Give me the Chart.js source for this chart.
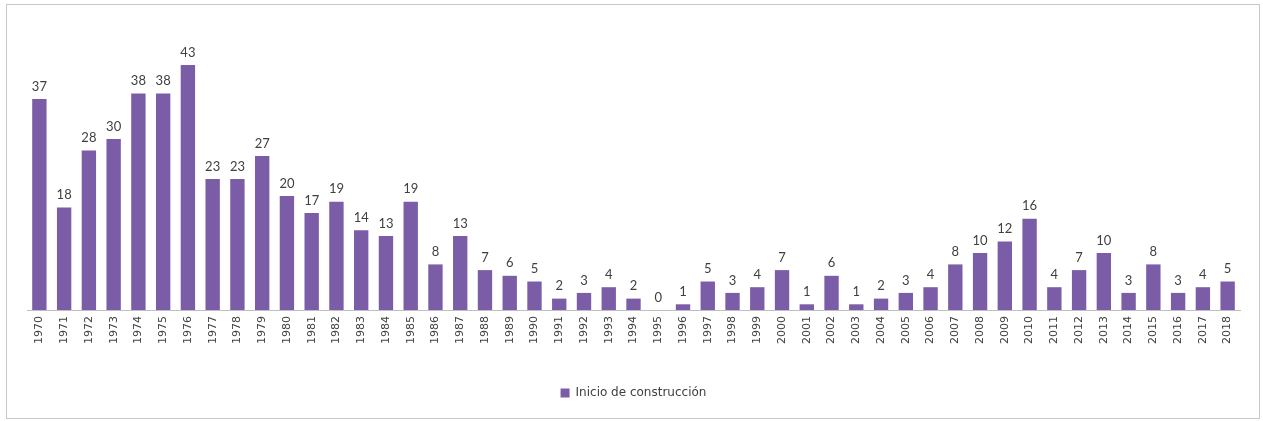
<!DOCTYPE html>
<html>
<head>
<meta charset="utf-8">
<script src="https://cdn.jsdelivr.net/npm/chart.js@4"></script>
<style>
  html, body { margin: 0; padding: 0; background: #fff; }
  #wrap { position: relative; width: 1263px; height: 421px; }
  #frame { position: absolute; left: 6px; top: 4px; width: 1252px; height: 413px; border: 1px solid #c8c8c8; }
  canvas { position: absolute; left: 0; top: 0; }
</style>
</head>
<body>
<div id="wrap">
  <div id="frame"></div>
  <canvas id="chart" width="1263" height="421"></canvas>
</div>
<script>
// años de inicio de construcción
const years = [];
for (let y = 1970; y <= 2018; y++) years.push(String(y));

const inicios = [37, 18, 28, 30, 38, 38, 43, 23, 23, 27,
                 20, 17, 19, 14, 13, 19, 8, 13, 7, 6,
                 5, 2, 3, 4, 2, 0, 1, 5, 3, 4,
                 7, 1, 6, 1, 2, 3, 4, 8, 10, 12,
                 16, 4, 7, 10, 3, 8, 3, 4, 5];

const seriesName = 'Inicio de construcción';
const purple = '#7b5ca6';

// etiquetas encima de cada barra
const valueLabels = {
    id: 'valueLabels',
    afterDatasetsDraw(chart) {
        const ctx = chart.ctx;
        const meta = chart.getDatasetMeta(0);
        ctx.save();
        ctx.font = '13px Lato, "Open Sans", sans-serif';
        ctx.fillStyle = '#404040';
        ctx.textAlign = 'center';
        ctx.textBaseline = 'bottom';
        meta.data.forEach((bar, i) => {
            ctx.fillText(String(inicios[i]), bar.x, bar.y - 6);
        });
        ctx.restore();
    }
};

new Chart(document.getElementById('chart').getContext('2d'), {
    type: 'bar',
    data: {
        labels: years,
        datasets: [{
            label: seriesName,
            data: inicios,
            backgroundColor: purple,
            barPercentage: 0.58,
            categoryPercentage: 1
        }]
    },
    options: {
        responsive: false,
        animation: false,
        layout: { padding: { left: 27, right: 23, top: 25, bottom: 12 } },
        plugins: {
            legend: {
                position: 'bottom',
                labels: {
                    boxWidth: 9, boxHeight: 9, padding: 18,
                    color: '#404040',
                    font: { family: '"DejaVu Sans", sans-serif', size: 12 }
                }
            },
            tooltip: { enabled: false }
        },
        scales: {
            x: {
                grid: { display: false, drawTicks: true, tickLength: 4 },
                border: { color: '#bfbfbf' },
                ticks: {
                    minRotation: 90, maxRotation: 90, autoSkip: false,
                    color: '#404040', padding: 2,
                    font: { family: '"DejaVu Sans", sans-serif', size: 11 }
                },
                // deja espacio entre los años y la leyenda
                afterFit(scale) { scale.height += 23; }
            },
            y: { display: false, min: 0, max: 50 }
        }
    },
    plugins: [valueLabels]
});
</script>
</body>
</html>
